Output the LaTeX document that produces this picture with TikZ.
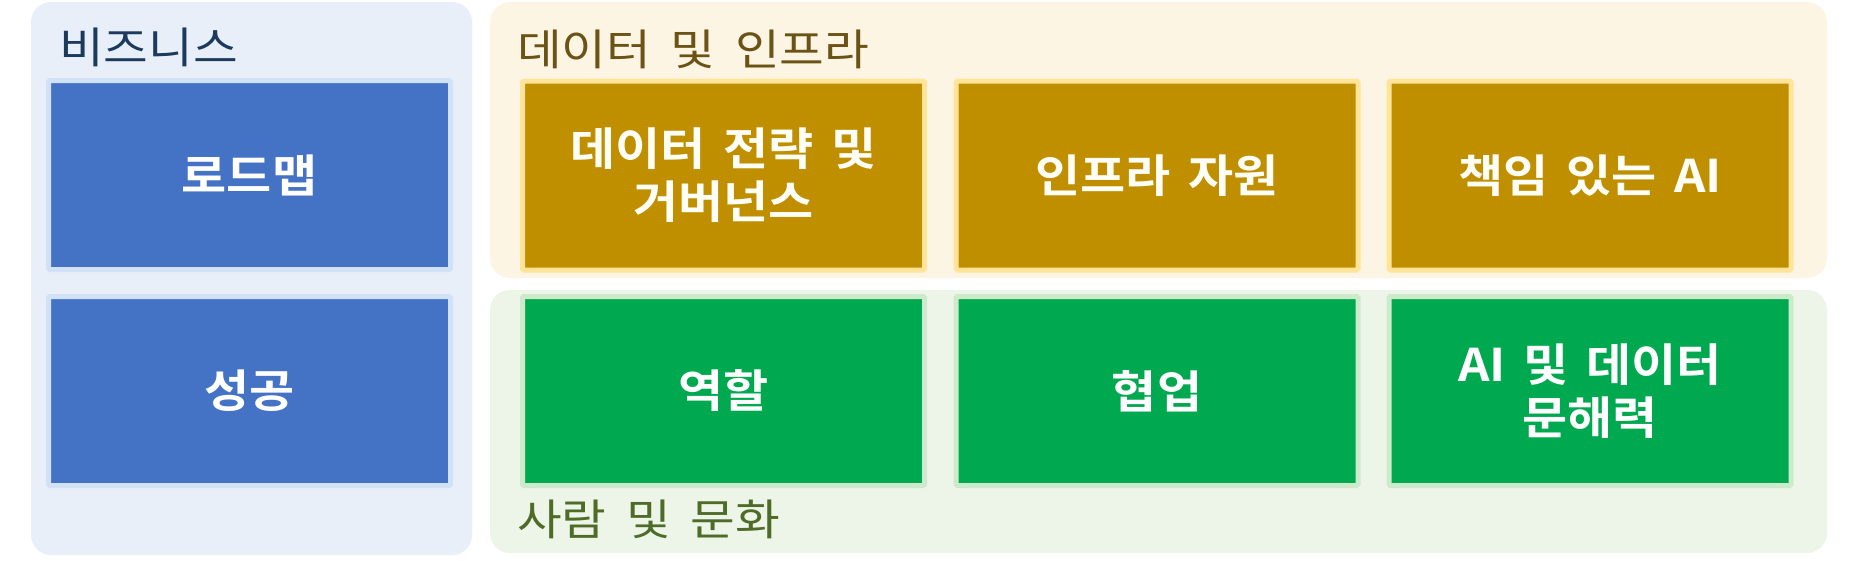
\documentclass[tikz,border=0pt]{standalone}
\usepackage{fontspec}
\newfontfamily\krfont[FakeStretch=1.13,WordSpace=1.8]{Noto Sans CJK KR}
\newfontfamily\krbold[FakeStretch=1.09,WordSpace=1.6]{Noto Sans CJK KR Bold}
\definecolor{bizbg}{HTML}{E9EFF9}
\definecolor{bizbox}{HTML}{4472C4}
\definecolor{bizglow}{HTML}{D2E2F6}
\definecolor{biztxt}{HTML}{1B3A5C}
\definecolor{databg}{HTML}{FDF5E4}
\definecolor{databox}{HTML}{BF8F00}
\definecolor{dataglow}{HTML}{FFE49A}
\definecolor{datatxt}{HTML}{6B5316}
\definecolor{pplbg}{HTML}{EDF5E9}
\definecolor{pplbox}{HTML}{00A84F}
\definecolor{pplglow}{HTML}{CDEBCB}
\definecolor{ppltxt}{HTML}{4E6B27}
\tikzset{
  panel/.style={rounded corners=20pt, minimum width=#1, inner sep=0pt},
  card/.style={minimum width=402pt, minimum height=189pt, line width=5pt,
    inner sep=0pt, align=center, font=\krbold\fontsize{45}{53}\selectfont,
    rounded corners=1.5pt},
  bizcard/.style={card, fill=bizbox, draw=bizglow, text=white},
  datacard/.style={card, fill=databox, draw=dataglow, text=white!97!yellow},
  pplcard/.style={card, fill=pplbox, draw=pplglow, text=white},
  ptitle/.style={anchor=base west, inner sep=0pt, font=\krfont\fontsize{43}{50}\selectfont}
}
\begin{document}
\begin{tikzpicture}[x=1pt,y=-1pt]
\useasboundingbox[fill=white] (0,0) rectangle (1854,560);
% panels
\node[panel=441pt, minimum height=553pt, fill=bizbg] (biz) at (251.5,278.5) {};
\node[panel=1337pt, minimum height=276pt, fill=databg] (data) at (1158.5,140) {};
\node[panel=1337pt, minimum height=263pt, fill=pplbg] (ppl) at (1158.5,421.5) {};
% titles
\node[ptitle, text=biztxt] (biztitle) at (59,63) {비즈니스};
\node[ptitle, text=datatxt] (datatitle) at (517,65) {데이터 및 인프라};
\node[ptitle, text=ppltxt] (ppltitle) at (517,535) {사람 및 문화};
% business
\node[bizcard] (roadmap) at (249.5,175) {로드맵};
\node[bizcard] (success) at (249.5,391) {성공};
% data
\node[datacard] (strategy) at (723.5,175.5) {데이터 전략 및\\거버넌스};
\node[datacard] (infra) at (1157,175.5) {인프라 자원};
\node[datacard] (respai) at (1590,175.5) {책임 있는 AI};
% people
\node[pplcard] (roles) at (723.5,391) {역할};
\node[pplcard] (collab) at (1157,391) {협업};
\node[pplcard] (literacy) at (1590,391) {AI 및 데이터\\문해력};
\end{tikzpicture}
\end{document}
